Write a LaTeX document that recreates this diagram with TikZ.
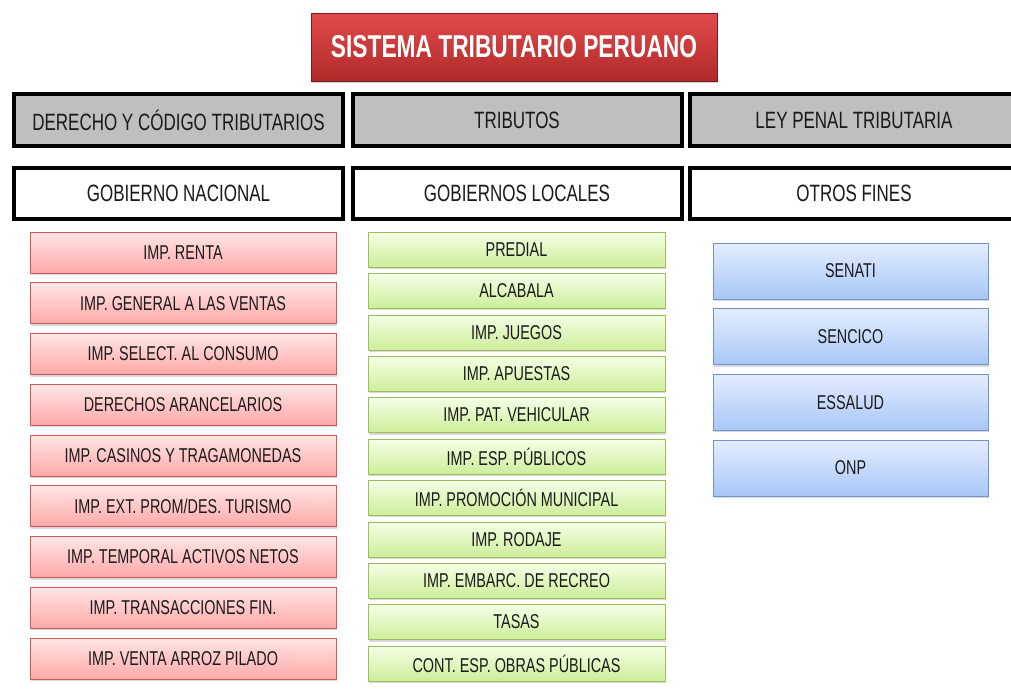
\documentclass[tikz,border=0pt]{standalone}
\usepackage{fontspec}
\setmainfont[FakeStretch=0.72]{Liberation Sans}
\usepackage{tikz}
\usetikzlibrary{shadows}

\definecolor{titletop}{HTML}{E24A4A}
\definecolor{titlebot}{HTML}{B02A2A}
\definecolor{txtdark}{HTML}{1A1A1A}
\definecolor{redtop}{HTML}{FFE6E6}
\definecolor{redbot}{HTML}{FFA8A8}
\definecolor{redline}{HTML}{CC5A5A}
\definecolor{greentop}{HTML}{F5FFE6}
\definecolor{greenbot}{HTML}{CDEE9A}
\definecolor{greenline}{HTML}{9DBE5C}
\definecolor{bluetop}{HTML}{E4EDFF}
\definecolor{bluebot}{HTML}{A8C7F6}
\definecolor{blueline}{HTML}{6E93CF}

\tikzset{
  titlebox/.style={draw=titlebot!70!black,top color=titletop,bottom color=titlebot,
    text=white,font=\bfseries\fontsize{23.7}{28}\selectfont,
    minimum width=304.5pt,minimum height=51pt,inner sep=0pt,
    drop shadow={opacity=0.35,shadow xshift=1pt,shadow yshift=-1.5pt}},
  headbox/.style={draw=black,line width=3pt,text=txtdark,
    font=\fontsize{17.7}{20}\selectfont,
    minimum width=246.75pt,minimum height=38.5pt,inner sep=0pt},
  itembox/.style={thin,text=txtdark,font=\fontsize{15}{18}\selectfont,inner sep=0pt,
    drop shadow={opacity=0.3,shadow xshift=0.8pt,shadow yshift=-1.5pt}},
  nacbox/.style={itembox,draw=redline,top color=redtop,bottom color=redbot,
    minimum width=229.5pt,minimum height=30.75pt},
  locbox/.style={itembox,draw=greenline,top color=greentop,bottom color=greenbot,
    minimum width=222.75pt,minimum height=26.25pt},
  otrbox/.style={itembox,draw=blueline,top color=bluetop,bottom color=bluebot,
    minimum width=206.25pt,minimum height=42pt}
}

\begin{document}
\begin{tikzpicture}[x=0.75pt,y=-0.75pt]
\clip (0,0) rectangle (1011,693);
\fill[white] (0,0) rectangle (1011,693);

\node[titlebox] (title) at (514,47) {SISTEMA TRIBUTARIO PERUANO};

\node[headbox,fill=gray!50] (hd1) at (178.5,120) {DERECHO Y CÓDIGO TRIBUTARIOS};
\node[headbox,fill=gray!50] (hd2) at (517,120) {TRIBUTOS};
\node[headbox,fill=gray!50] (hd3) at (854,120) {LEY PENAL TRIBUTARIA};

\node[headbox,fill=white] (sub1) at (178.5,193.5) {GOBIERNO NACIONAL};
\node[headbox,fill=white] (sub2) at (517,193.5) {GOBIERNOS LOCALES};
\node[headbox,fill=white] (sub3) at (854,193.5) {OTROS FINES};

\foreach \txt [count=\i from 0] in {IMP. RENTA,IMP. GENERAL A LAS VENTAS,
  IMP. SELECT. AL CONSUMO,DERECHOS ARANCELARIOS,IMP. CASINOS Y TRAGAMONEDAS,
  IMP. EXT. PROM/DES. TURISMO,IMP. TEMPORAL ACTIVOS NETOS,
  IMP. TRANSACCIONES FIN.,IMP. VENTA ARROZ PILADO}
  \node[nacbox] (nac\i) at (183,252.5+50.75*\i) {\txt};

\foreach \txt [count=\i from 0] in {PREDIAL,ALCABALA,IMP. JUEGOS,IMP. APUESTAS,
  IMP. PAT. VEHICULAR,IMP. ESP. PÚBLICOS,IMP. PROMOCIÓN MUNICIPAL,IMP. RODAJE,
  IMP. EMBARC. DE RECREO,TASAS,CONT. ESP. OBRAS PÚBLICAS}
  \node[locbox] (loc\i) at (516.5,249.5+41.4*\i) {\txt};

\foreach \txt [count=\i from 0] in {SENATI,SENCICO,ESSALUD,ONP}
  \node[otrbox] (otr\i) at (850.5,271+65.67*\i) {\txt};
\end{tikzpicture}
\end{document}
